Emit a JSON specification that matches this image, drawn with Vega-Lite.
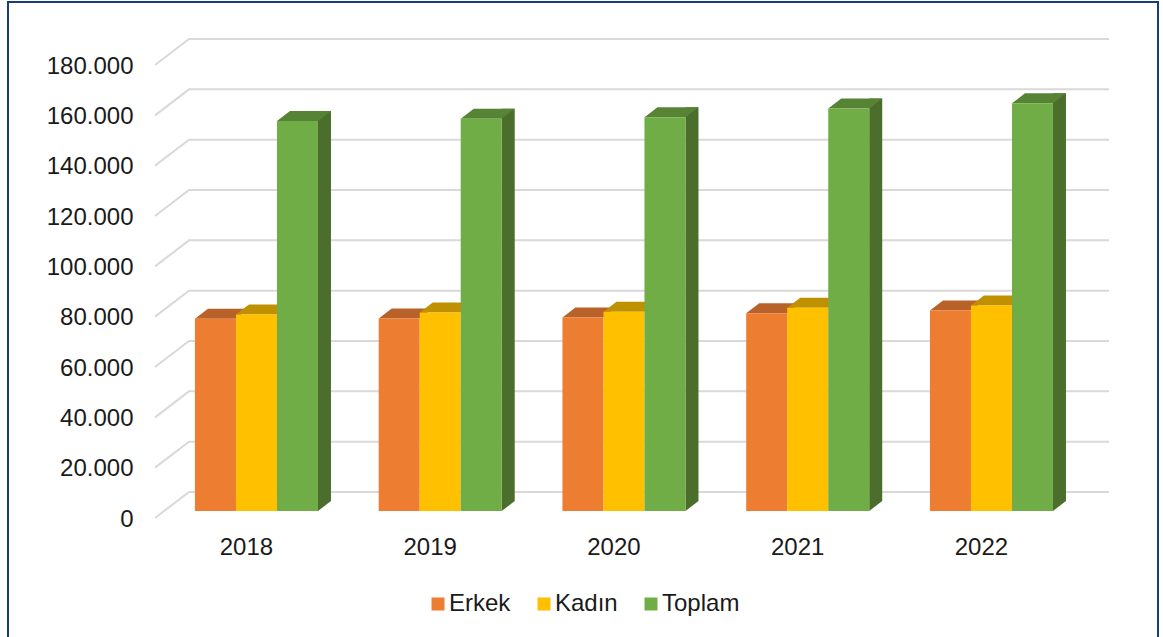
{
"$schema":"https://vega.github.io/schema/vega-lite/v6.json",
"width":1150,"height":636,
"autosize":{"type":"none"},
"padding":{"left":8,"top":2,"right":5,"bottom":0},
"background":"white",
"view":{"stroke":"#1c3b7a","strokeWidth":2,"fill":"white"},
"config":{"font":"Liberation Sans"},
"datasets":{
"bars":[
{"year":"2018","series":"Erkek","value":76400},{"year":"2018","series":"Kadın","value":78100},{"year":"2018","series":"Toplam","value":155000},
{"year":"2019","series":"Erkek","value":76500},{"year":"2019","series":"Kadın","value":78900},{"year":"2019","series":"Toplam","value":155900},
{"year":"2020","series":"Erkek","value":76900},{"year":"2020","series":"Kadın","value":79200},{"year":"2020","series":"Toplam","value":156500},
{"year":"2021","series":"Erkek","value":78600},{"year":"2021","series":"Kadın","value":80800},{"year":"2021","series":"Toplam","value":159900},
{"year":"2022","series":"Erkek","value":79700},{"year":"2022","series":"Kadın","value":81700},{"year":"2022","series":"Toplam","value":162000}
],
"ticks":[{"tick":0},{"tick":20000},{"tick":40000},{"tick":60000},{"tick":80000},{"tick":100000},{"tick":120000},{"tick":140000},{"tick":160000},{"tick":180000}]
},
"resolve":{"scale":{"color":"independent"}},
"layer":[
{"data":{"name":"ticks"},
 "mark":{"type":"point","shape":"M-91.875 0 L-57.875 -26 L862.125 -26","filled":false,"stroke":"#d9d9d9","strokeWidth":2,"opacity":1,"size":4},
 "encoding":{
  "x":{"datum":"2018","type":"nominal","scale":{"domain":["2018","2019","2020","2021","2022"],"range":[147,1065.75],"paddingInner":0,"paddingOuter":0},
   "axis":{"title":null,"domain":false,"ticks":false,"grid":false,"labelAngle":0,"labelFontSize":24,"labelColor":"#1a1a1a","labelPadding":0,"offset":-103,"labelOffset":-0.5}},
  "y":{"field":"tick","type":"quantitative","scale":{"domain":[0,180000],"range":[516,63],"nice":false},
   "axis":{"title":null,"domain":false,"ticks":false,"grid":false,"values":[0,20000,40000,60000,80000,100000,120000,140000,160000,180000],"labelExpr":"replace(format(datum.value,','),',','.')","labelFontSize":24,"labelColor":"#1a1a1a","labelPadding":0,"offset":-125,"labelOffset":1}}
 }},
{"data":{"name":"bars"},"transform":[{"filter":"datum.series==='Toplam'"}],
 "mark":{"type":"bar","width":13,"xOffset":77.6,"yOffset":-17,"color":"#4b6e2c"},
 "encoding":{
  "x":{"field":"year","type":"nominal"},
  "y":{"field":"value","type":"quantitative"}
 }},
{"data":{"name":"bars"},"transform":[{"filter":"datum.series==='Toplam'"}],
 "mark":{"type":"point","shape":"M20.5 0 L33.5 -10 L20.5 -10 Z","filled":true,"color":"#4b6e2c","opacity":1,"size":4,"yOffset":-7},
 "encoding":{
  "x":{"field":"year","type":"nominal"},
  "xOffset":{"field":"series","type":"nominal","scale":{"domain":["Erkek","Kadın","Toplam"],"paddingInner":0,"paddingOuter":0.74,"align":0.658}},
  "y":{"datum":0,"type":"quantitative"}
 }},
{"data":{"name":"bars"},
 "mark":{"type":"point","shape":"M-20.5 0 L20.5 0 L33.5 -10 L-7.5 -10 Z","filled":true,"opacity":1,"size":4,"yOffset":-7},
 "encoding":{
  "x":{"field":"year","type":"nominal"},
  "xOffset":{"field":"series","type":"nominal"},
  "y":{"field":"value","type":"quantitative"},
  "color":{"field":"series","type":"nominal","legend":null,"scale":{"domain":["Erkek","Kadın","Toplam"],"range":["#b8622a","#bf9000","#578434"]}}
 }},
{"data":{"name":"bars"},
 "mark":{"type":"bar","yOffset":-7},
 "encoding":{
  "x":{"field":"year","type":"nominal"},
  "xOffset":{"field":"series","type":"nominal"},
  "y":{"field":"value","type":"quantitative"},
  "color":{"field":"series","type":"nominal","scale":{"domain":["Erkek","Kadın","Toplam"],"range":["#ed7d31","#ffc000","#70ad47"]},
   "legend":{"title":null,"orient":"none","direction":"horizontal","legendX":418,"legendY":590,"symbolType":"square","symbolSize":169,"symbolStrokeWidth":0,"labelFontSize":24,"labelColor":"#1a1a1a","labelOffset":-1,"columnPadding":21,"padding":0}}
 }}
]
}
